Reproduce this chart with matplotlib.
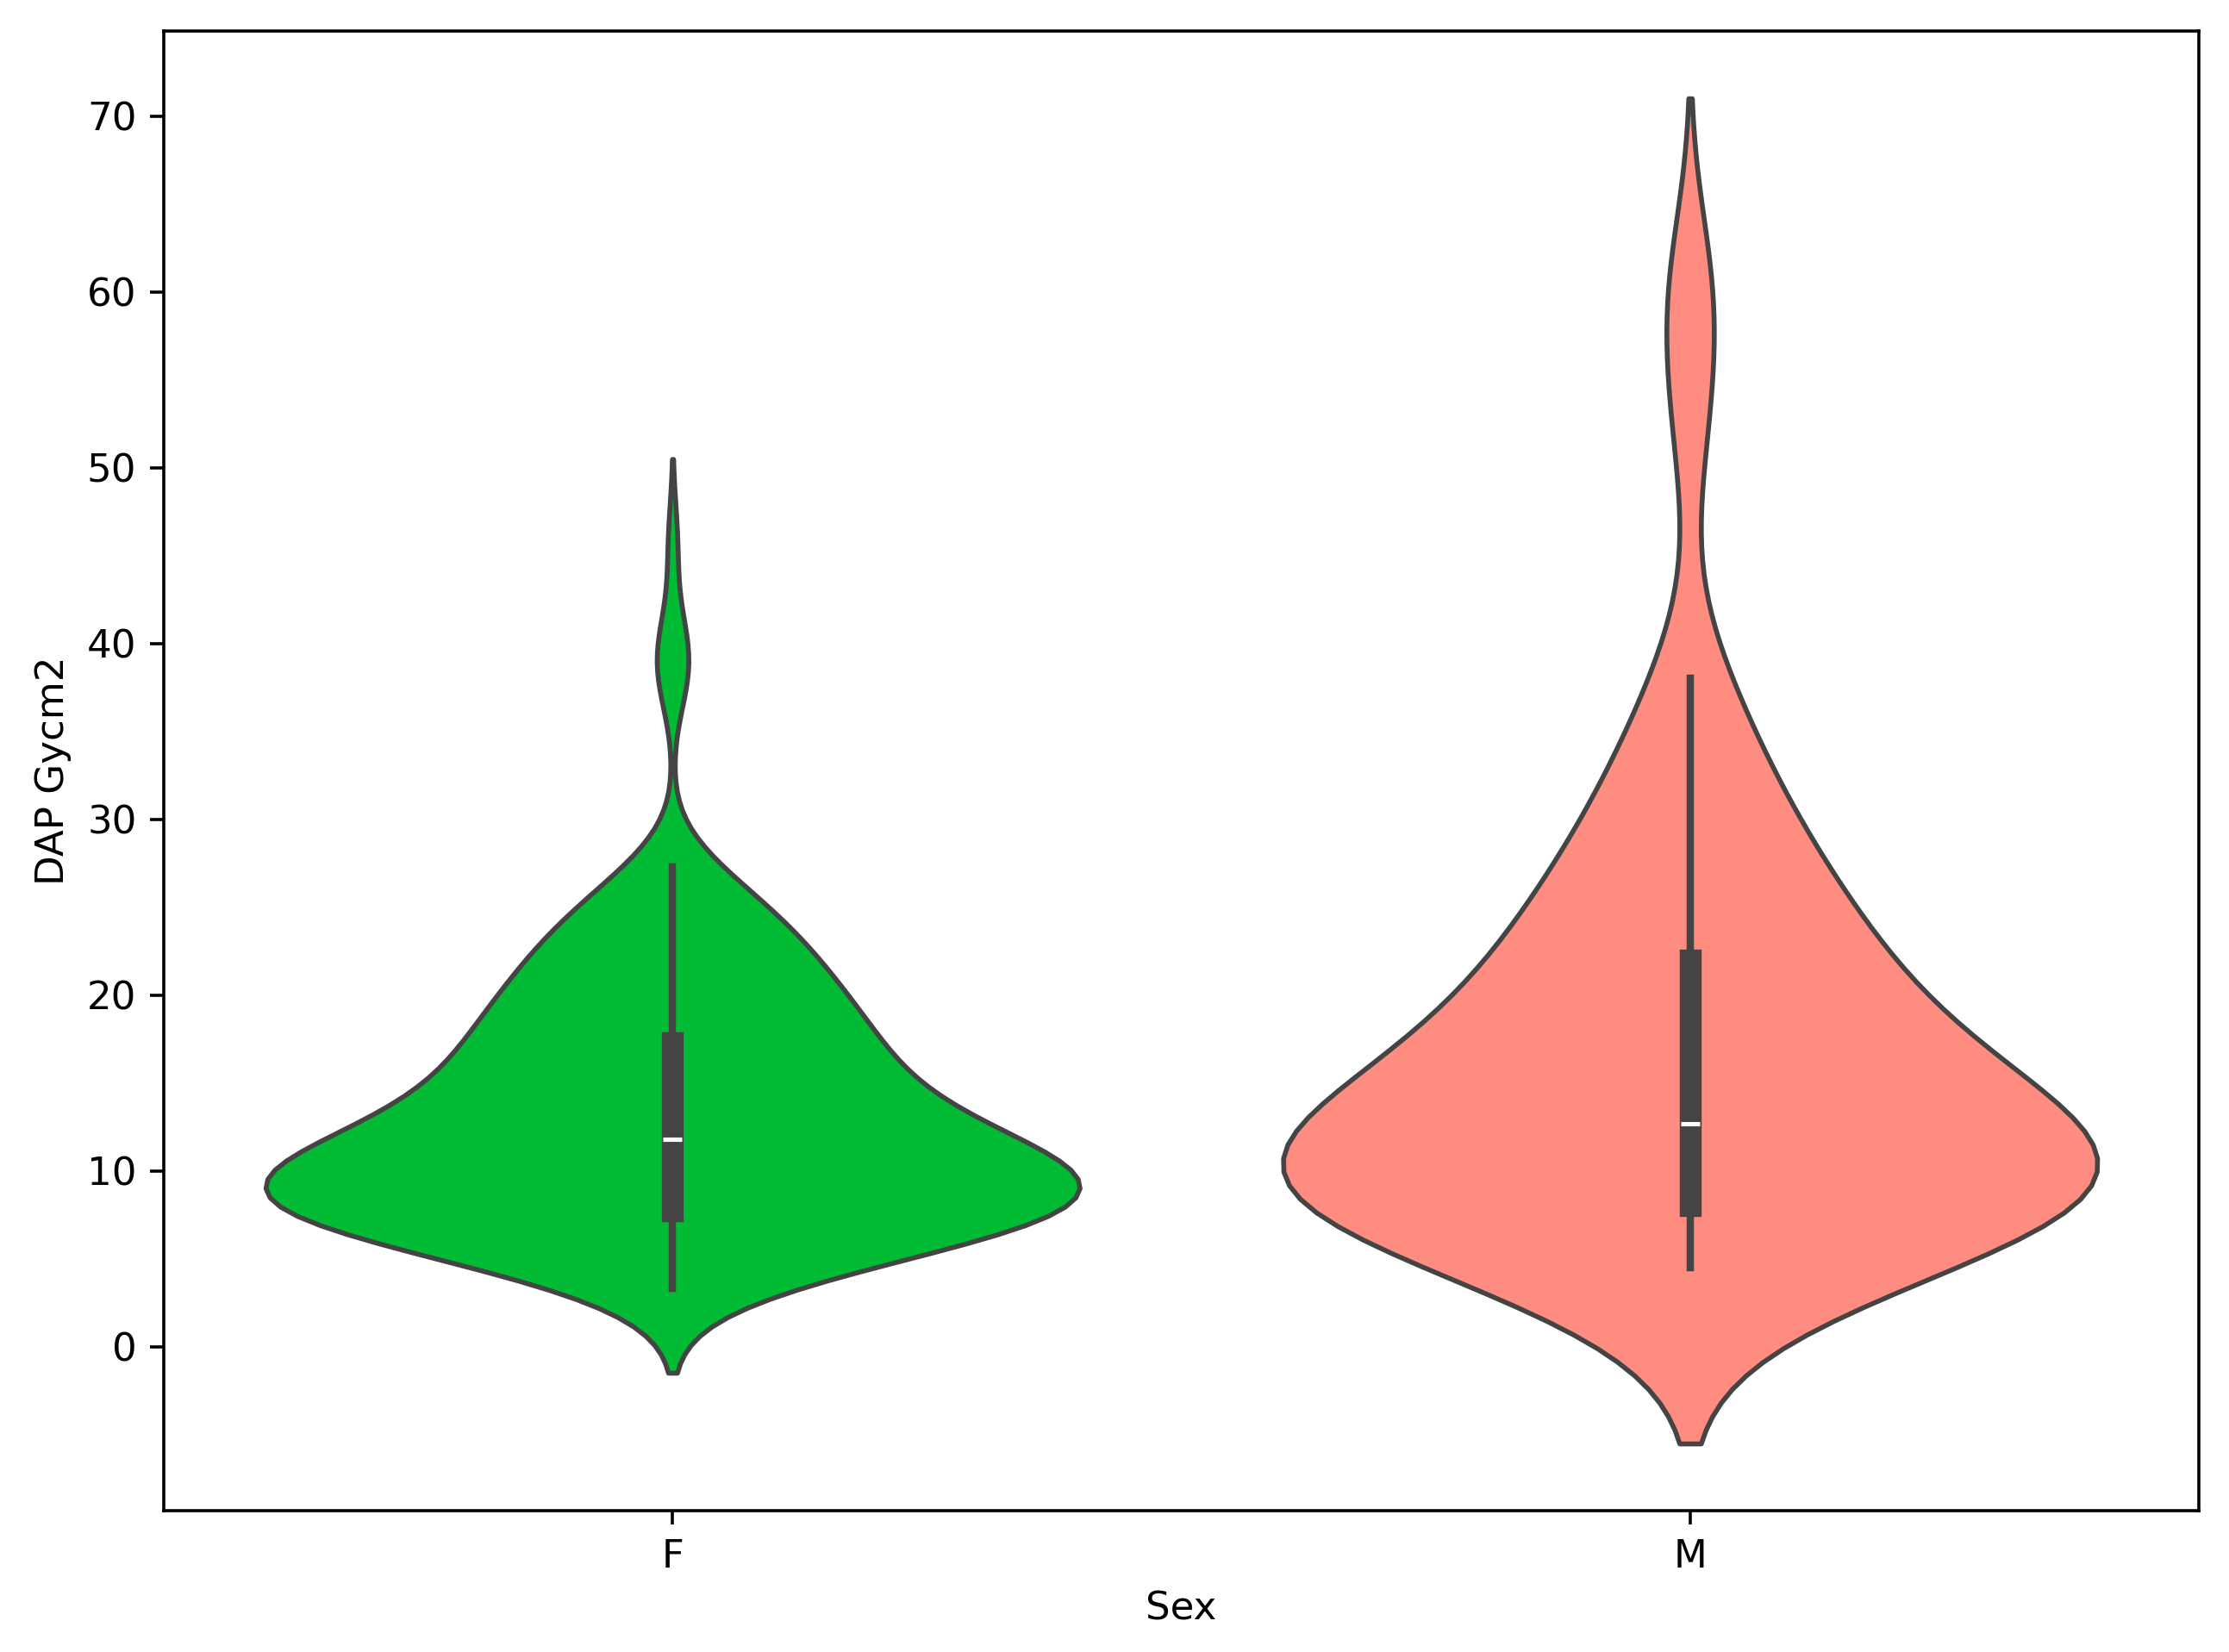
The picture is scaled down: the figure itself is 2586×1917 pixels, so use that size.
import matplotlib
matplotlib.use("Agg")
import matplotlib.pyplot as plt
import numpy as np
import pandas as pd
import seaborn as sns

# DAP readings (Gy*cm2) grouped by value, with how many patients had each
f_values = [3.3, 4, 5, 6, 7, 7.7, 9, 10, 11, 11.8, 13, 14, 15, 16, 17.3, 18, 19, 20,
            21, 22, 23, 24, 25, 26, 27.3, 37.5, 39, 40.5, 45.7]
f_counts = [3, 4, 8, 12, 17, 18, 21, 18, 15, 12, 11, 10, 9, 10, 8, 7, 7, 7,
            6, 6, 5, 5, 4, 3, 3, 1, 2, 1, 1]

m_values = [4.5, 5.5, 6.5, 7, 7.5, 8, 9, 10, 11, 12, 12.7, 14, 15, 16, 17, 18, 19, 20,
            21, 22, 23, 24, 26, 28, 30, 32, 34, 36, 38, 52, 58, 61]
m_counts = [1, 2, 3, 4, 4, 5, 4, 5, 3, 3, 3, 3, 2, 3, 2, 2, 1, 2,
            1, 2, 2, 2, 2, 2, 2, 1, 1, 1, 1, 1, 1, 1]

sexes = ["F", "M"]
colors = {"F": "#00BB33", "M": "#FF8C80"}

f_obs = np.repeat(f_values, f_counts)
m_obs = np.repeat(m_values, m_counts)
df = pd.DataFrame({
    "Sex": ["F"] * len(f_obs) + ["M"] * len(m_obs),
    "DAP Gycm2": np.concatenate([f_obs, m_obs]),
})

fig = plt.figure(figsize=(2586 / 325, 1917 / 325), dpi=325)
ax = fig.add_axes([0.0735, 0.0855, 0.913, 0.8957])
sns.violinplot(data=df, x="Sex", y="DAP Gycm2", hue="Sex", order=sexes,
               palette=colors, saturation=1, density_norm="width",
               linecolor="#444444", legend=False, ax=ax)

fig.savefig("out.png", dpi=325)
